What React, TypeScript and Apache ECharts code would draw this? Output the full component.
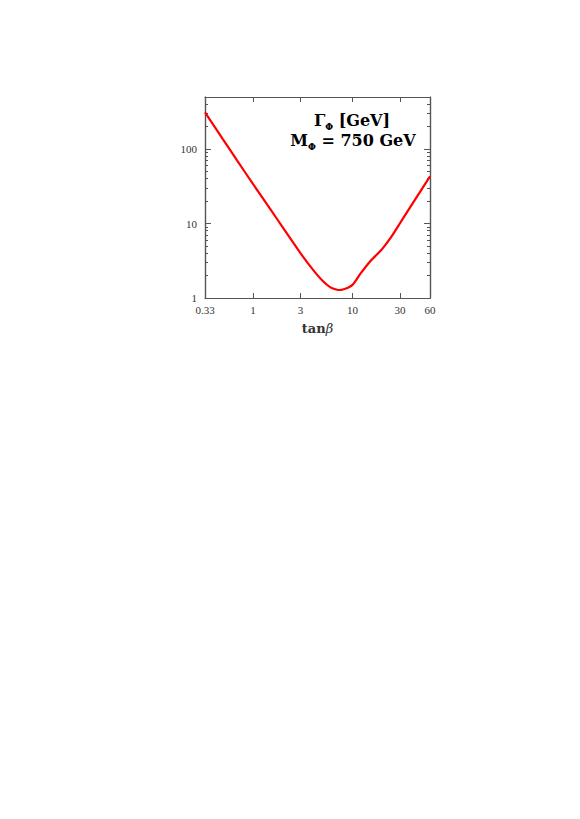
import React, { useEffect, useRef } from "react";
import * as echarts from "echarts";

const tanBeta = [0.33, 0.5, 0.7, 1, 1.5, 2, 3, 4, 5, 6, 7, 7.5, 8, 9, 10, 11, 12, 15, 18, 20, 25, 30, 40, 60];
const widthGeV = [310, 135, 69, 34, 15.5, 8.8, 4.0, 2.4, 1.7, 1.39, 1.29, 1.28, 1.3, 1.37, 1.5, 1.78, 2.12, 3.1, 3.95, 4.6, 6.9, 10.1, 18.5, 43];

const xTickValues = [1, 3, 10, 30];
const xLabelValues = [0.33, 1, 3, 10, 30, 60];
const xLabelTexts = ["0.33", "1", "3", "10", "30", "60"];
const yMajorTicks = [10, 100];
const yLabelValues = [1, 10, 100];
const yLabelTexts = ["1", "10", "100"];
const yMinorTicks = [2, 3, 4, 5, 6, 7, 8, 9, 20, 30, 40, 50, 60, 70, 80, 90, 200, 300, 400, 500];

const titleLine1 = "{m|Γ}{s|Φ}{m| [GeV]}";
const titleLine2 = "{m|M}{s|Φ}{m| = 750 GeV}";

const X_MIN = 0.33;
const X_MAX = 60;
const Y_MIN = 1;
const Y_MAX = 500;

const frameColor = "#555";
const labelFont = "'Liberation Serif', 'DejaVu Serif', serif";
const titleFont = "'DejaVu Serif', 'Liberation Serif', serif";

function fmt(values: number[], texts: string[]) {
  return (v: number) => {
    let best = 0;
    let bd = Infinity;
    values.forEach((u, i) => {
      const d = Math.abs(Math.log(u) - Math.log(v));
      if (d < bd) {
        bd = d;
        best = i;
      }
    });
    return texts[best];
  };
}

export default function App() {
  const ref = useRef<HTMLDivElement>(null);
  useEffect(() => {
    if (!ref.current) return;
    const chart = echarts.init(ref.current, null, { renderer: "svg" });
    const line = { show: true, onZero: false, lineStyle: { color: frameColor, width: 1.2 } };
    const baseX = {
      type: "log",
      logBase: 10,
      min: X_MIN,
      max: X_MAX,
      gridIndex: 0,
      splitLine: { show: false },
      minorTick: { show: false },
      axisLine: line,
    };
    const baseY = {
      type: "log",
      logBase: 10,
      min: Y_MIN,
      max: Y_MAX,
      gridIndex: 0,
      splitLine: { show: false },
      minorTick: { show: false },
      axisLine: line,
    };
    const labelStyle = {
      fontFamily: labelFont,
      fontSize: 11,
      color: "#333",
    };
    const richTitle = {
      m: { fontFamily: titleFont, fontWeight: "bold", fontSize: 16, color: "#3a3a3a", lineHeight: 22 },
      s: { fontFamily: titleFont, fontWeight: "bold", fontSize: 9, color: "#3a3a3a", lineHeight: 9, verticalAlign: "bottom" },
    };
    chart.setOption({
      animation: false,
      backgroundColor: "#fff",
      grid: { left: 205, right: 150, top: 97, bottom: 521, containLabel: false },
      xAxis: [
        {
          ...baseX,
          position: "bottom",
          axisTick: { show: true, inside: true, length: 5, customValues: xTickValues, lineStyle: { color: frameColor } },
          axisLabel: {
            show: true,
            customValues: xLabelValues,
            formatter: fmt(xLabelValues, xLabelTexts),
            margin: 6,
            ...labelStyle,
          },
          name: "{b|tan}{i|β}",
          nameLocation: "middle",
          nameGap: 24,
          nameTextStyle: {
            rich: {
              b: { fontFamily: titleFont, fontWeight: "bold", fontSize: 13, color: "#333" },
              i: { fontFamily: titleFont, fontStyle: "italic", fontSize: 13, color: "#333" },
            },
          },
        },
        {
          ...baseX,
          position: "top",
          axisTick: { show: true, inside: true, length: 5, customValues: xTickValues, lineStyle: { color: frameColor } },
          axisLabel: { show: false },
        },
      ],
      yAxis: [
        {
          ...baseY,
          position: "left",
          axisTick: { show: true, inside: true, length: 6, customValues: yMajorTicks, lineStyle: { color: frameColor } },
          axisLabel: {
            show: true,
            customValues: yLabelValues,
            formatter: fmt(yLabelValues, yLabelTexts),
            margin: 8,
            ...labelStyle,
          },
        },
        {
          ...baseY,
          position: "left",
          axisTick: { show: true, inside: true, length: 3, customValues: yMinorTicks, lineStyle: { color: frameColor } },
          axisLabel: { show: false },
        },
        {
          ...baseY,
          position: "right",
          axisTick: { show: true, inside: true, length: 6, customValues: yMajorTicks, lineStyle: { color: frameColor } },
          axisLabel: { show: false },
        },
        {
          ...baseY,
          position: "right",
          axisTick: { show: true, inside: true, length: 3, customValues: yMinorTicks, lineStyle: { color: frameColor } },
          axisLabel: { show: false },
        },
      ],
      series: [
        {
          type: "line",
          xAxisIndex: 0,
          yAxisIndex: 0,
          data: tanBeta.map((x, i) => [x, widthGeV[i]]),
          smooth: 0.25,
          showSymbol: false,
          symbol: "none",
          lineStyle: { color: "#ff0000", width: 2.2 },
          z: 1,
        },
      ],
      graphic: [
        {
          type: "text",
          x: 352,
          y: 120,
          style: { text: titleLine1, align: "center", verticalAlign: "middle", rich: richTitle },
        },
        {
          type: "text",
          x: 353,
          y: 140,
          style: { text: titleLine2, align: "center", verticalAlign: "middle", rich: richTitle },
        },
      ],
    });
    return () => chart.dispose();
  }, []);
  return <div ref={ref} style={{ position: "absolute", left: 0, top: 0, width: 580, height: 819 }} />;
}
